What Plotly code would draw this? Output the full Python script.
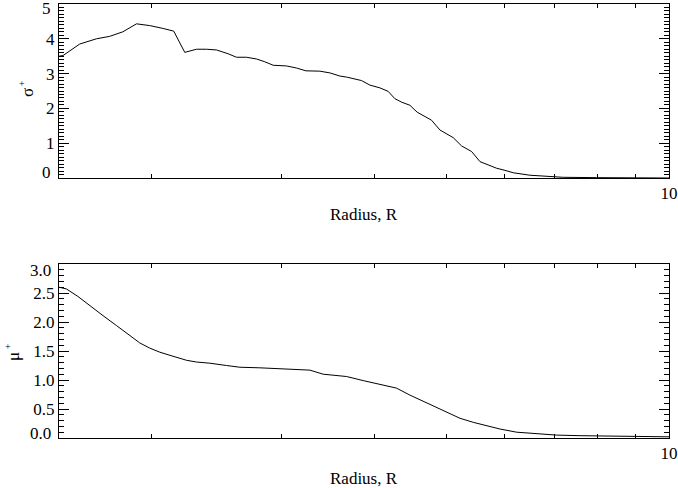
import plotly.graph_objects as go

# sigma+ vs radius (top panel)
r_sigma = [1.50, 1.519, 1.600, 1.685, 1.756, 1.829, 1.909, 1.989, 2.071, 2.143, 2.218,
           2.300, 2.373, 2.448, 2.538, 2.605, 2.687, 2.772, 2.845, 2.920, 3.044, 3.140,
           3.232, 3.376, 3.483, 3.593, 3.669, 3.843, 3.944, 4.069, 4.175, 4.263, 4.353,
           4.467, 4.570, 4.681, 4.779, 4.904, 5.008, 5.111, 5.247, 5.413, 5.555, 5.700,
           5.851, 6.004, 6.162, 6.489, 6.834, 7.197, 7.987, 10.0]
sigma = [3.50, 3.52, 3.85, 4.00, 4.07, 4.20, 4.43, 4.38, 4.30, 4.22, 3.61,
         3.70, 3.70, 3.68, 3.57, 3.47, 3.47, 3.42, 3.34, 3.24, 3.22, 3.16,
         3.08, 3.07, 3.02, 2.93, 2.90, 2.80, 2.67, 2.59, 2.49, 2.28, 2.18,
         2.09, 1.89, 1.77, 1.66, 1.38, 1.26, 1.16, 0.92, 0.76, 0.47, 0.38,
         0.28, 0.22, 0.15, 0.08, 0.04, 0.02, 0.01, 0.0]

# mu+ vs radius (bottom panel)
r_mu = [1.50, 1.535, 1.591, 1.651, 1.720, 1.793, 1.869, 1.928, 1.989, 2.052, 2.138,
        2.230, 2.300, 2.397, 2.525, 2.633, 2.801, 2.951, 3.140, 3.273, 3.411, 3.585,
        3.669, 3.863, 4.027, 4.285, 4.467, 4.656, 4.855, 5.008, 5.220, 5.440, 5.671,
        5.910, 6.227, 6.555, 7.050, 7.581, 8.409, 10.0]
mu = [2.60, 2.57, 2.44, 2.28, 2.11, 1.94, 1.77, 1.64, 1.55, 1.48, 1.41,
      1.34, 1.31, 1.29, 1.25, 1.22, 1.21, 1.20, 1.18, 1.17, 1.10, 1.07,
      1.06, 0.99, 0.94, 0.86, 0.74, 0.63, 0.53, 0.45, 0.34, 0.27, 0.21,
      0.155, 0.10, 0.074, 0.05, 0.04, 0.03, 0.02]

x_tickvals = [2, 3, 4, 5, 6, 7, 8, 9, 10]
x_ticktext = ["", "", "", "", "", "", "", "", "10"]
sigma_ticks = [0, 1, 2, 3, 4, 5]
sigma_labels = ["0", "1", "2", "3", "4", "5"]
mu_ticks = [0.0, 0.5, 1.0, 1.5, 2.0, 2.5, 3.0]
mu_labels = ["0.0", "0.5", "1.0", "1.5", "2.0", "2.5", "3.0"]
minor_step = 0.1

W, H = 678, 488
FONT = "Liberation Serif"
FS = 17
TF = dict(family=FONT, size=FS, color="black")

X0, X1 = 59, 669
TOP = (4, 178)
BOT = (264, 438)
SIG_RANGE = [0, 5]
MU_RANGE = [0, 3.0]
xdom = [X0 / W, X1 / W]
ydom_top = [(H - TOP[1]) / H, (H - TOP[0]) / H]
ydom_bot = [(H - BOT[1]) / H, (H - BOT[0]) / H]

fig = go.Figure()
fig.add_trace(go.Scatter(x=r_sigma, y=sigma, mode="lines", xaxis="x", yaxis="y",
                         line=dict(color="black", width=1)))
fig.add_trace(go.Scatter(x=r_mu, y=mu, mode="lines", xaxis="x2", yaxis="y2",
                         line=dict(color="black", width=1)))


def xaxis(anchor):
    return dict(type="log", range=[0.17609, 1.0], domain=xdom, anchor=anchor,
                tickmode="array", tickvals=x_tickvals, ticktext=x_ticktext,
                ticks="inside", ticklen=4, tickcolor="black",
                showline=True, linecolor="black", linewidth=1, mirror="allticks",
                showgrid=False, zeroline=False, tickfont=TF, automargin=False)


def yaxis(anchor, rng, dom, tv, tt):
    labels = [""] + tt[1:-1] + [""]   # end labels drawn as annotations below
    return dict(range=rng, domain=dom, anchor=anchor,
                tickmode="array", tickvals=tv, ticktext=labels,
                ticks="inside", ticklen=10, tickcolor="black",
                minor=dict(ticks="inside", ticklen=5, tickmode="linear", tick0=0,
                           dtick=minor_step, tickcolor="black"),
                showline=True, linecolor="black", linewidth=1, mirror="allticks",
                showgrid=False, zeroline=False, tickfont=TF, automargin=False)


def ypix(v, rng, pix):
    return pix[1] - (v - rng[0]) / (rng[1] - rng[0]) * (pix[1] - pix[0])


ann = [
    dict(text="Radius, R", x=364, y=214),
    dict(text="Radius, R", x=364, y=478),
    dict(text="σ", x=28, y=93, textangle=-90),
    dict(text="+", x=22, y=84, font=dict(family=FONT, size=10, color="black")),
    dict(text="μ", x=13, y=357, textangle=-90),
    dict(text="+", x=8, y=346, font=dict(family=FONT, size=10, color="black")),
    dict(text=sigma_labels[-1], x=53, y=ypix(sigma_ticks[-1], SIG_RANGE, TOP) + 4, xanchor="right"),
    dict(text=sigma_labels[0], x=53, y=ypix(sigma_ticks[0], SIG_RANGE, TOP) - 5.5, xanchor="right"),
    dict(text=mu_labels[-1], x=53, y=ypix(mu_ticks[-1], MU_RANGE, BOT) + 6, xanchor="right"),
    dict(text=mu_labels[0], x=53, y=ypix(mu_ticks[0], MU_RANGE, BOT) - 5, xanchor="right"),
]
annotations = []
for a in ann:
    d = dict(xref="paper", yref="paper", showarrow=False, font=TF,
             xanchor="center", yanchor="middle")
    d.update(a)
    d["x"] = a["x"] / W
    d["y"] = (H - a["y"]) / H
    annotations.append(d)

fig.update_layout(
    width=W, height=H,
    margin=dict(l=0, r=0, t=0, b=0),
    paper_bgcolor="white", plot_bgcolor="white",
    showlegend=False,
    font=TF,
    xaxis=xaxis("y"),
    yaxis=yaxis("x", SIG_RANGE, ydom_top, sigma_ticks, sigma_labels),
    xaxis2=xaxis("y2"),
    yaxis2=yaxis("x2", MU_RANGE, ydom_bot, mu_ticks, mu_labels),
    annotations=annotations,
)

fig.write_html("out.html")
